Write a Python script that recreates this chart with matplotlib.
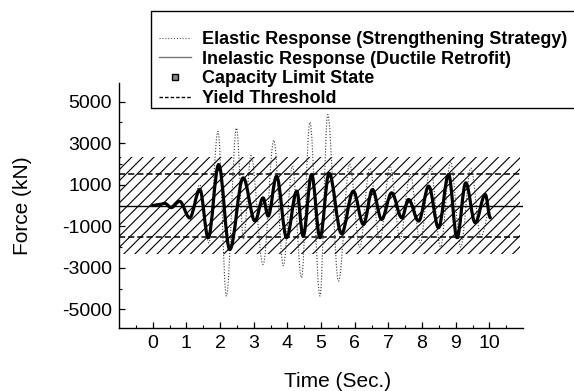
import numpy as np
import matplotlib
matplotlib.use("Agg")
import matplotlib.pyplot as plt
from matplotlib.lines import Line2D
from matplotlib.patches import PathPatch
from matplotlib.path import Path

# --- datos ---
# respuesta inelastica (retrofit ductil): extremos de la oscilacion
t_inel = [0.0, 0.2, 0.36, 0.55, 0.8, 1.1, 1.4, 1.65, 1.96, 2.29, 2.69, 3.04,
          3.28, 3.43, 3.68, 3.98, 4.28, 4.47, 4.72, 4.97, 5.24, 5.61, 5.96,
          6.26, 6.53, 6.8, 7.1, 7.4, 7.6, 7.9, 8.2, 8.49, 8.79, 9.04, 9.3,
          9.58, 9.88, 10.03]
f_inel = [0, 50, 100, -100, 200, -590, 770, -1550, 1970, -2120, 1330, -750,
          370, -510, 1410, -1550, 690, -1480, 1490, -1550, 1550, -1350, 690,
          -910, 770, -670, 610, -590, 290, -750, 930, -1070, 1490, -1550, 1090,
          -830, 530, -590]

# respuesta elastica (estrategia de refuerzo)
t_el = [0.0, 0.36, 0.55, 0.8, 1.1, 1.4, 1.67, 1.94, 2.19, 2.49, 2.7, 2.92,
        3.28, 3.6, 3.88, 4.15, 4.42, 4.67, 4.97, 5.2, 5.52, 5.85, 6.15, 6.45,
        6.75, 7.05, 7.35, 7.65, 7.95, 8.25, 8.55, 8.85, 9.15, 9.45, 9.75, 10.05]
f_el = [0, 100, -100, 250, -700, 1000, -1800, 3570, -4360, 3730, -1600, 2400,
        -2840, 3140, -2900, 1900, -3480, 4010, -4360, 4380, -3640, 2000, -2000,
        1800, -1700, 1900, -1600, 1500, -1800, 1900, -2000, 2100, -2000, 1800,
        -1500, 0]

capacity = 2350      # estado limite de capacidad (+/-)
yield_force = 1520   # umbral de fluencia (+/-)
band_t = [-1.0, 10.9]

y_ticks = [-5000, -3000, -1000, 1000, 3000, 5000]
x_ticks = list(range(0, 11))

labels = ["Elastic Response (Strengthening Strategy)",
          "Inelastic Response (Ductile Retrofit)",
          "Capacity Limit State",
          "Yield Threshold"]


def wave_path(ts, fs):
    # curva suave que pasa por los extremos (tangente horizontal en cada uno)
    verts = [(ts[0], fs[0])]
    codes = [Path.MOVETO]
    for i in range(1, len(ts)):
        dt = ts[i] - ts[i - 1]
        verts += [(ts[i - 1] + 0.36 * dt, fs[i - 1]),
                  (ts[i] - 0.36 * dt, fs[i]),
                  (ts[i], fs[i])]
        codes += [Path.CURVE4] * 3
    return Path(verts, codes)


plt.rcParams["font.family"] = ["Liberation Sans", "DejaVu Sans"]
plt.rcParams["hatch.linewidth"] = 0.8

fig = plt.figure(figsize=(5.74, 3.91), dpi=100, facecolor="white")
ax = fig.add_axes([119 / 574, 1 - 328 / 391, 404 / 574, 245 / 391])

# banda de capacidad rayada
ax.fill_between(band_t, -capacity, capacity, facecolor="none",
                edgecolor="black", hatch="///", linewidth=0, zorder=1)
# umbral de fluencia
for s in (1, -1):
    ax.plot(band_t, [s * yield_force] * 2, color="black", lw=1.1,
            ls=(0, (4, 2)), zorder=2)
ax.axhline(0, color="black", lw=1.0, zorder=2)

ax.add_patch(PathPatch(wave_path(t_el, f_el), fill=False, edgecolor="#333333",
                       lw=0.8, ls=(0, (1, 1.6)), zorder=3))
ax.add_patch(PathPatch(wave_path(t_inel, f_inel), fill=False,
                       edgecolor="black", lw=2.3, joinstyle="round",
                       capstyle="round", zorder=4))

ax.set_xlim(-1, 11)
ax.set_ylim(-5900, 5900)
ax.set_xticks(x_ticks)
ax.set_xticks(np.arange(-0.5, 11, 1.0), minor=True)
ax.set_yticks(y_ticks)
ax.set_yticks(range(-4000, 6000, 2000), minor=True)
ax.set_yticklabels([str(v) for v in y_ticks])
ax.tick_params(which="major", direction="in", length=4, width=0.9,
               labelsize=14, pad=5)
ax.tick_params(which="minor", direction="in", length=2, width=0.8)
for side in ("top", "right"):
    ax.spines[side].set_visible(False)
for side in ("left", "bottom"):
    ax.spines[side].set_linewidth(1.0)

ax.set_xlabel("Time (Sec.)", fontsize=15)
ax.xaxis.set_label_coords(0.54, -0.18)
ax.set_ylabel("Force (kN)", fontsize=15)
ax.yaxis.set_label_coords(-0.215, 0.5)

# leyenda
handles = [
    Line2D([0], [0], color="#555555", lw=0.8, ls=(0, (1, 1.6))),
    Line2D([0], [0], color="#777777", lw=1.0),
    Line2D([0], [0], ls="none", marker="s", markersize=5,
           markerfacecolor="#888888", markeredgecolor="black"),
    Line2D([0], [0], color="black", lw=1.0, ls=(0, (2.5, 1.5))),
]
fig.legend(handles, labels, loc="upper left",
           bbox_to_anchor=(159 / 574, 1 - 31 / 391), frameon=False,
           borderaxespad=0, borderpad=0, handlelength=1.75, handletextpad=0.65,
           labelspacing=0.15, prop={"weight": "bold", "size": 13})
# marco de la leyenda, abierto por la derecha (sale de la figura)
x0, x1 = 151 / 574, 1.0
y0, y1 = 1 - 108 / 391, 1 - 11 / 391
fig.add_artist(Line2D([x1, x0, x0, x1], [y1, y1, y0, y0],
                      transform=fig.transFigure, color="black", lw=1.0))

fig.savefig("out.png", dpi=100, facecolor="white")
